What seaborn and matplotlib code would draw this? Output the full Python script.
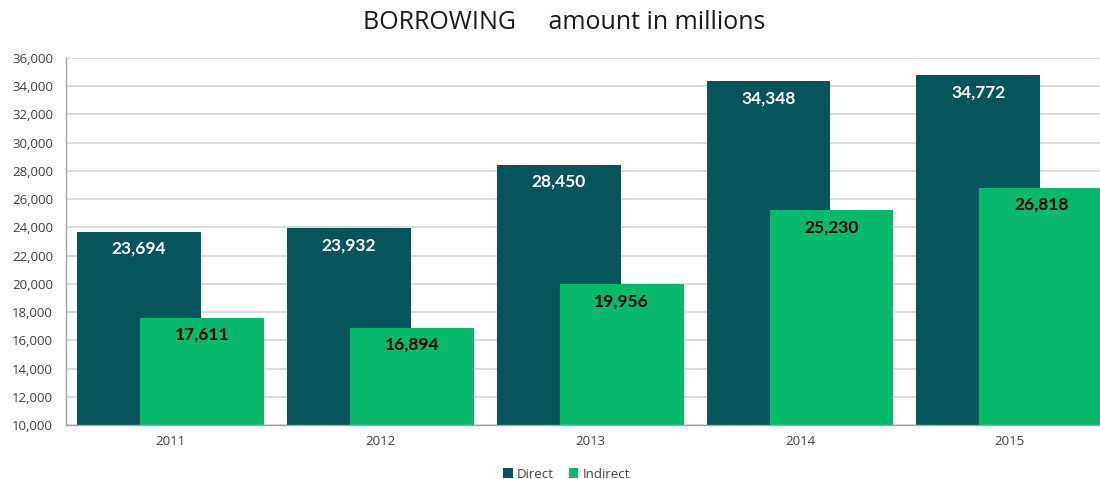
import matplotlib
matplotlib.use("Agg")
import matplotlib.pyplot as plt
import seaborn as sns
import pandas as pd
from matplotlib.ticker import FuncFormatter, MultipleLocator
from matplotlib.patches import Patch

years = ["2011", "2012", "2013", "2014", "2015"]
direct = [23694, 23932, 28450, 34348, 34772]
indirect = [17611, 16894, 19956, 25230, 26818]
series_names = ["Direct", "Indirect"]
colors = ["#05555A", "#07B96B"]
label_colors = ["white", "black"]

df = pd.DataFrame({
    "year": years * 2,
    "value": direct + indirect,
    "series": [series_names[0]] * len(years) + [series_names[1]] * len(years),
})

sns.set_style("white")
plt.rcParams["font.family"] = ["Open Sans", "DejaVu Sans"]

fig = plt.figure(figsize=(11, 4.79), dpi=100)
ax = fig.add_axes([0.0597, 0.1127, 0.9536, 0.7662])

sns.barplot(data=df, x="year", y="value", hue="series", order=years,
            hue_order=series_names, palette=colors, width=0.6, dodge=True,
            saturation=1, errorbar=None, legend=False, ax=ax, zorder=2)

# widen each dodged bar so the two series overlap by half
bar_w = 0.59
for p in ax.patches:
    c = p.get_x() + p.get_width() / 2
    p.set_width(bar_w)
    p.set_x(c - bar_w / 2)
    p.set_linewidth(0)

ax.set_ylim(10000, 36000)
ax.set_xlim(-0.5, 4.5)
ax.yaxis.set_major_locator(MultipleLocator(2000))
ax.yaxis.set_major_formatter(FuncFormatter(lambda v, _: f"{int(v):,}"))
ax.grid(axis="y", color="#D9D9D9", linewidth=1.3, zorder=0)
ax.set_axisbelow(True)

for side in ["top", "right"]:
    ax.spines[side].set_visible(False)
for side in ["left", "bottom"]:
    ax.spines[side].set_color("#A6A6A6")
    ax.spines[side].set_linewidth(1.0)

ax.tick_params(axis="both", length=0, labelsize=9.5, colors="#404040", pad=7)
ax.tick_params(axis="y", pad=9)
ax.set_xlabel("")
ax.set_ylabel("")

# value labels just inside the top of each bar
n = len(years)
for k, (vals, col) in enumerate(zip([direct, indirect], label_colors)):
    for i, v in enumerate(vals):
        p = ax.patches[k * n + i]
        cx = p.get_x() + p.get_width() / 2
        ax.annotate(f"{v:,}", xy=(cx, v), xytext=(0, -17),
                    textcoords="offset pixels", ha="center", va="center",
                    fontsize=12.5, fontweight="bold", color=col,
                    family=["Lato", "DejaVu Sans"], zorder=5)

fig.text(0.513, 0.953, "BORROWING     amount in millions", ha="center",
         va="center", fontsize=18, color="#1A1A1A")

handles = [Patch(facecolor=c, edgecolor="none", label=s)
           for s, c in zip(series_names, colors)]
fig.legend(handles=handles, loc="center", bbox_to_anchor=(0.515, 0.01),
           ncol=2, frameon=False, fontsize=9.5, handlelength=0.7,
           handleheight=0.7, handletextpad=0.3, columnspacing=1.2,
           labelcolor="#404040")

fig.savefig("out.png", dpi=100, facecolor="white")
